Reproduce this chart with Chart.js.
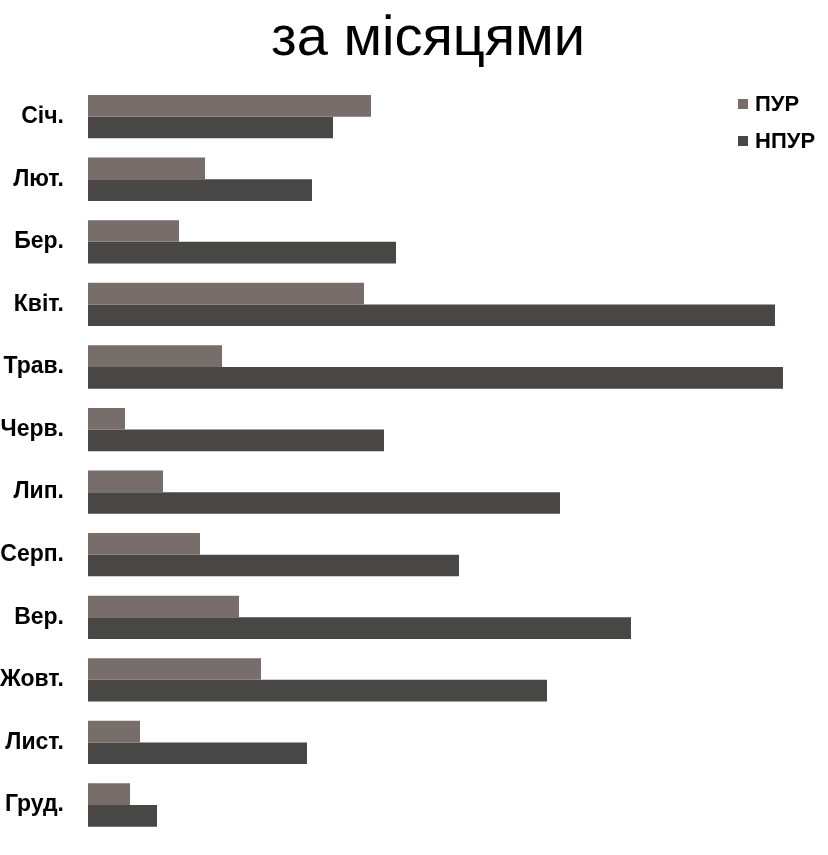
<!DOCTYPE html>
<html>
<head>
<meta charset="utf-8">
<script src="https://cdn.jsdelivr.net/npm/chart.js@4.4.0/dist/chart.umd.min.js"></script>
<style>
  html, body { margin: 0; padding: 0; background: #ffffff; }
  #wrap { position: relative; width: 828px; height: 855px; }
</style>
</head>
<body>
<div id="wrap"><canvas id="c" width="828" height="855"></canvas></div>
<script>
const titleText = 'за місяцями';
const categories = ['Січ.', 'Лют.', 'Бер.', 'Квіт.', 'Трав.', 'Черв.', 'Лип.', 'Серп.', 'Вер.', 'Жовт.', 'Лист.', 'Груд.'];
const seriesNames = ['ПУР', 'НПУР'];
const purValues  = [283, 117, 91, 276, 134, 37, 75, 112, 151, 173, 52, 42];
const npurValues = [245, 224, 308, 687, 695, 296, 472, 371, 543, 459, 219, 69];
const seriesColors = ['#776d6a', '#494745'];
const axisMax = 740;

const FONT = '"Liberation Sans", Arial, Helvetica, sans-serif';

const decor = {
  id: 'decor',
  afterDraw(chart) {
    const ctx = chart.ctx;
    ctx.save();
    ctx.fillStyle = '#000000';
    ctx.textAlign = 'center';
    ctx.textBaseline = 'alphabetic';
    ctx.font = 'normal 56px ' + FONT;
    ctx.fillText(titleText, 428, 55);
    ctx.font = 'bold 22px ' + FONT;
    ctx.textBaseline = 'middle';
    ctx.textAlign = 'left';
    chart.data.datasets.forEach((ds, i) => {
      const y = 104 + i * 37;
      ctx.fillStyle = ds.backgroundColor;
      ctx.fillRect(738, y - 5, 10, 10);
      ctx.fillStyle = '#000000';
      ctx.fillText(ds.label, 755, y + 1);
    });
    ctx.restore();
  }
};

new Chart(document.getElementById('c'), {
  type: 'bar',
  data: {
    labels: categories,
    datasets: [
      { label: seriesNames[0], data: purValues, backgroundColor: seriesColors[0] },
      { label: seriesNames[1], data: npurValues, backgroundColor: seriesColors[1] }
    ]
  },
  options: {
    indexAxis: 'y',
    responsive: false,
    animation: false,
    devicePixelRatio: 1,
    layout: { padding: { left: 0, right: 0, top: 85.4, bottom: 18.7 } },
    datasets: { bar: { categoryPercentage: 0.692, barPercentage: 1.0, borderWidth: 0 } },
    plugins: {
      legend: { display: false },
      tooltip: { enabled: false },
      title: { display: false }
    },
    scales: {
      x: {
        display: false,
        min: 0,
        max: axisMax,
        grid: { display: false }
      },
      y: {
        afterFit(axis) {
          axis.width = 88;
          axis.paddingTop = 0;
          axis.paddingBottom = 0;
        },
        grid: { display: false, drawTicks: false },
        border: { display: false },
        ticks: {
          color: '#000000',
          padding: 24,
          font: { family: FONT, size: 23, weight: 'bold' }
        }
      }
    }
  },
  plugins: [decor]
});
</script>
</body>
</html>
